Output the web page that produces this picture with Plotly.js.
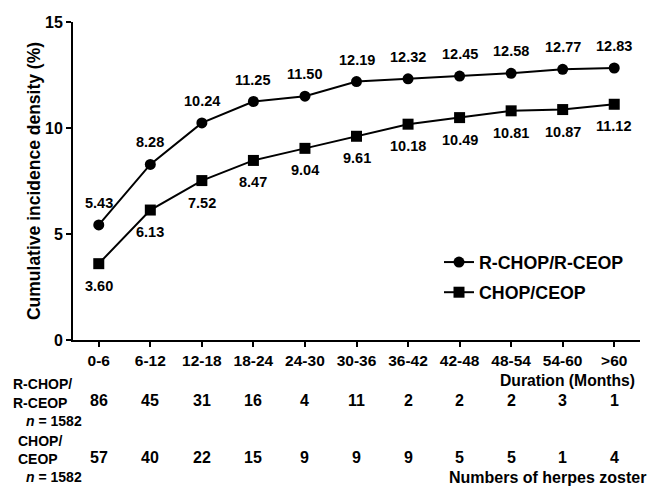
<!DOCTYPE html>
<html>
<head>
<meta charset="utf-8">
<script src="https://cdn.plot.ly/plotly-3.0.1.min.js"></script>
<style>html,body{margin:0;padding:0;background:#fff;}#chart{width:649px;height:492px;}</style>
</head>
<body>
<div id="chart"></div>
<script>
// ---- data ----
const durations = ["0-6","6-12","12-18","18-24","24-30","30-36","36-42","42-48","48-54","54-60",">60"];
const rchopDensity = [5.43, 8.28, 10.24, 11.25, 11.50, 12.19, 12.32, 12.45, 12.58, 12.77, 12.83];
const chopDensity  = [3.60, 6.13, 7.52, 8.47, 9.04, 9.61, 10.18, 10.49, 10.81, 10.87, 11.12];
const rchopCounts = [86, 45, 31, 16, 4, 11, 2, 2, 2, 3, 1];
const chopCounts  = [57, 40, 22, 15, 9, 9, 9, 5, 5, 1, 4];
const seriesNames = ["R-CHOP/R-CEOP", "CHOP/CEOP"];
const yTicks = [0, 5, 10, 15];

// ---- layout helpers ----
const W = 649, H = 492, L = 73, R = 9, T = 22, B = 152;
const PW = W - L - R, PH = H - T - B;
const px = x => (x - L) / PW;           // pixel -> paper x
const py = y => (H - B - y) / PH;        // pixel -> paper y
const FONT = "Liberation Sans, Arial, sans-serif";
const f = (size) => ({family: FONT, size: size, color: "#000", weight: "bold"});

const traces = [
  {x: durations, y: rchopDensity, name: seriesNames[0], type: "scatter", mode: "lines+markers",
   line: {color: "#000", width: 2}, marker: {symbol: "circle", size: 11, color: "#000"},
   legendgroup: "a", cliponaxis: false},
  {x: durations, y: chopDensity, name: seriesNames[1], type: "scatter", mode: "lines+markers",
   line: {color: "#000", width: 2}, marker: {symbol: "square", size: 11, color: "#000"},
   legendgroup: "b", cliponaxis: false}
];

const ann = [];
durations.forEach((d, i) => {
  ann.push({x: d, y: rchopDensity[i], xref: "x", yref: "y", text: rchopDensity[i].toFixed(2),
    showarrow: false, yshift: 22, yanchor: "middle", font: f(14.5)});
  ann.push({x: d, y: chopDensity[i], xref: "x", yref: "y", text: chopDensity[i].toFixed(2),
    showarrow: false, yshift: -22, yanchor: "middle", font: f(14.5)});
  ann.push({x: d, y: py(400), xref: "x", yref: "paper", text: String(rchopCounts[i]),
    showarrow: false, xanchor: "center", yanchor: "middle", font: f(16)});
  ann.push({x: d, y: py(457), xref: "x", yref: "paper", text: String(chopCounts[i]),
    showarrow: false, xanchor: "center", yanchor: "middle", font: f(16)});
});
const rowLabels = [
  {t: "R-CHOP/", x: 11, y: 384},
  {t: "R-CEOP", x: 11, y: 403},
  {t: "<i>n</i> = 1582", x: 24, y: 421},
  {t: "CHOP/", x: 16, y: 441},
  {t: "CEOP", x: 16, y: 459},
  {t: "<i>n</i> = 1582", x: 24, y: 477}
];
rowLabels.forEach(r => ann.push({x: px(r.x), y: py(r.y), xref: "paper", yref: "paper", text: r.t,
  xanchor: "left", yanchor: "middle", showarrow: false, font: f(14)}));
ann.push({x: px(637), y: py(380), xref: "paper", yref: "paper", text: "Duration (Months)",
  xanchor: "right", yanchor: "middle", showarrow: false, font: f(15.7)});
ann.push({x: px(648), y: py(477), xref: "paper", yref: "paper", text: "Numbers of herpes zoster",
  xanchor: "right", yanchor: "middle", showarrow: false, font: f(16)});

const layout = {
  width: W, height: H,
  margin: {l: L, r: R, t: T, b: B},
  paper_bgcolor: "#fff", plot_bgcolor: "#fff",
  font: {family: FONT, color: "#000"},
  showlegend: true,
  legend: {x: px(439), y: py(244), xanchor: "left", yanchor: "top", bgcolor: "rgba(0,0,0,0)",
    font: f(17.8), tracegroupgap: 4, itemwidth: 30},
  xaxis: {type: "category", range: [-0.5, 10.5], showline: true, linecolor: "#000", linewidth: 2,
    ticks: "outside", ticklen: 5, tickwidth: 2, tickcolor: "#000", showgrid: false, zeroline: false,
    tickfont: f(15.5), fixedrange: true},
  yaxis: {range: [0, 15], tickvals: yTicks, showline: true, linecolor: "#000", linewidth: 2,
    ticks: "outside", ticklen: 5, tickwidth: 2, tickcolor: "#000", showgrid: false, zeroline: false,
    tickfont: f(16),
    title: {text: "Cumulative incidence density (%)", font: f(17.5), standoff: 0}},
  annotations: ann
};
Plotly.newPlot("chart", traces, layout, {displayModeBar: false, staticPlot: true});
</script>
</body>
</html>
